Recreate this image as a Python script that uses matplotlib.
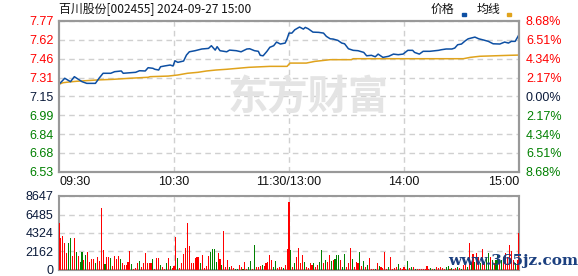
import numpy as np
import matplotlib
matplotlib.use("Agg")
import matplotlib.pyplot as plt
from matplotlib.patches import Rectangle

# ---- data ----
title = "百川股份[002455] 2024-09-27 15:00"
prev_close = 7.15
price_ticks = [6.53, 6.68, 6.84, 6.99, 7.15, 7.31, 7.46, 7.62, 7.77]
pct_labels = ["8.68%", "6.51%", "4.34%", "2.17%", "0.00%", "2.17%", "4.34%", "6.51%", "8.68%"]
time_labels = ["09:30", "10:30", "11:30/13:00", "14:00", "15:00"]
vol_ticks = [0, 2162, 4324, 6485, 8647]

price_min = [0, 3, 6, 8, 12, 14.5, 19, 21, 23, 27, 29, 32.5, 33.5, 40, 42, 45, 46.5, 49, 50, 52,
             53, 55, 58, 59.5, 60.5, 62, 65, 66.5, 68, 71, 74.5, 78, 79.5, 81.5, 82.5, 84, 87.5, 89,
             92.5, 95, 98, 99.5, 102, 104, 105, 106.5, 108.5, 110, 112, 113.5, 115.5, 118, 119, 120,
             121.5, 123, 125.5, 127.5, 128.5, 130, 132.5, 135.5, 138, 139.5, 141.5, 143, 145.5, 147.5,
             149, 151, 153.5, 156, 159, 160.5, 163, 165, 166.5, 169, 172, 174.5, 177, 179.5, 182,
             184.5, 185.5, 188, 190, 193.5, 198, 199.5, 202, 205, 206.5, 208, 210, 212, 213.5, 215,
             217, 219, 221.5, 224, 226.5, 230, 232.5, 234.5, 236, 238, 239.5, 240]
price = [7.249, 7.299, 7.271, 7.312, 7.271, 7.257, 7.257, 7.301, 7.340, 7.340, 7.353, 7.359, 7.340,
         7.348, 7.361, 7.359, 7.386, 7.381, 7.373, 7.367, 7.394, 7.400, 7.408, 7.400, 7.443, 7.430,
         7.441, 7.490, 7.517, 7.526, 7.540, 7.545, 7.567, 7.531, 7.559, 7.526, 7.517, 7.531, 7.526,
         7.517, 7.540, 7.542, 7.526, 7.521, 7.488, 7.484, 7.521, 7.554, 7.567, 7.597, 7.581, 7.589,
         7.624, 7.671, 7.671, 7.698, 7.721, 7.704, 7.718, 7.707, 7.679, 7.677, 7.671, 7.644, 7.624,
         7.622, 7.611, 7.589, 7.583, 7.542, 7.529, 7.526, 7.512, 7.484, 7.488, 7.476, 7.498, 7.471,
         7.480, 7.498, 7.493, 7.498, 7.529, 7.529, 7.512, 7.498, 7.521, 7.521, 7.529, 7.534, 7.540,
         7.540, 7.548, 7.575, 7.581, 7.608, 7.624, 7.630, 7.638, 7.624, 7.614, 7.603, 7.583, 7.581,
         7.597, 7.589, 7.603, 7.603, 7.644, 7.660]

avg_min = [0, 2, 4, 9, 20, 28, 37, 46.5, 47.5, 57, 62, 67, 72.5, 77, 82, 87.5, 99, 110, 119, 120.5,
           129, 133.5, 141.5, 152.5, 153.5, 211, 214.5, 219.5, 235, 240]
avg_px = [7.249, 7.262, 7.266, 7.274, 7.285, 7.290, 7.299, 7.307, 7.312, 7.317, 7.326, 7.340, 7.348,
          7.359, 7.367, 7.373, 7.389, 7.397, 7.397, 7.424, 7.424, 7.438, 7.452, 7.452, 7.460, 7.460,
          7.471, 7.480, 7.488, 7.490]

# one volume per minute, R = up bar, G = down bar
vol = [5531, 3700, 3973, 3194, 2025, 3194, 3778, 1636, 3778, 2142,
       1636, 974, 2142, 1169, 1753, 2142, 974, 1285, 1285, 857,
       1558, 1091, 7284, 2337, 701, 1558, 1558, 1441, 467, 1636,
       1285, 1636, 1285, 857, 545, 584, 974, 2259, 701, 156,
       195, 857, 1091, 390, 818, 2025, 779, 779, 779, 1246,
       117, 1441, 1363, 584, 312, 156, 779, 1402, 506, 273,
       467,
       3895, 1441, 195, 857, 1870, 2532, 5453, 2804, 779, 779,
       1363, 1558, 1558, 779, 1753, 195, 467, 1636, 2142, 2415,
       2454, 974, 2025, 1246, 584, 4596, 312, 1169, 312, 506,
       273, 117, 117, 545, 312, 117, 974, 156, 312, 1091,
       78, 2921, 312, 312, 506, 584, 467, 779, 896, 1753,
       1169, 312, 1052, 234, 312, 390, 195, 584, 2454, 7985,
       2337, 312, 857, 1480, 2571, 857, 1753, 974, 312, 195,
       779, 584, 857, 312, 584, 974, 2337, 779, 1169, 974,
       1753, 1091, 1169, 1246, 1753, 1753, 1169, 312, 1870, 312,
       779, 2571, 1324, 312, 974, 779, 2142, 467, 1013, 312,
       584, 1441, 156, 156, 156, 779, 467, 312, 234, 2142,
       156, 312, 1558, 156, 234, 312, 701, 234, 156, 312,
       156, 1091, 234, 390, 312, 156, 156, 156, 156, 78,
       117, 467, 156, 195, 156, 117, 312, 195, 312, 195,
       117, 312, 467, 156, 195, 117, 234, 312, 234, 117,
       584, 857, 312, 3100, 857, 1870, 974, 2025, 1558, 779,
       2454, 974, 1363, 1948, 1558, 1169, 779, 1169, 1753, 779,
       1169, 1558, 2025, 1558, 2921, 2259, 1169, 779, 1169, 4285]
vol_dir = ("RRRRRGGRRG" "RGGRGRRRRG" "RRRRGRRGRR" "RRGRRRRRGR" "RRGRRRRRRG" "RRRGRRGRGR" "R"
           "RGRRRRRRRR" "RRRGRRRRGG" "GGRRGRRRGR" "RGGRRGRRGG" "RGRRRGRRRR" "RGGRRRGRRR"
           "GRGRRRRGRR" "RRGRRGGRGR" "RGRGGGRGGR" "RRGRRRGRGR" "GRRRGRGRRR" "RGRRRRGRRR"
           "RGRGRGRRRR" "RRRGRGRRRR" "RGGRGRRGRG" "RRGRGRGRRG" "RRGGRGRGGR" "GRRRRRRGRR")

# ---- figure ----
W, H = 578, 276
fig = plt.figure(figsize=(W / 100, H / 100), dpi=100)
fig.patch.set_facecolor("white")

L, R = 59 / W, 519 / W
ax = fig.add_axes([L, 1 - 171.7 / H, R - L, 150.7 / H])
axv = fig.add_axes([L, 1 - 270 / H, R - L, 74 / H])

spine_c = "#999999"
grid_c = "#d0d0d0"
lab_font = "Liberation Sans"
red, green, dark = "#ff0000", "#008000", "#0a1a3a"

# watermark
fig.text(308 / W, 1 - 98 / H, "东方财富", fontsize=29, fontweight="bold",
         color="#e4e4e4", family=["Noto Sans CJK SC"], ha="center", va="center", zorder=0)

ax.plot(avg_min, avg_px, color="#e0a31c", lw=1.1, zorder=3)
ax.plot(price_min, price, color="#0d4fa3", lw=1.1, zorder=4)
ax.patch.set_alpha(0)

lo = prev_close * (1 - 0.0868)
hi = prev_close * (1 + 0.0868)
ax.set_xlim(0, 240)
ax.set_ylim(lo, hi)
ax.set_xticks([60, 120, 180])
ax.set_xticklabels([])
ax.tick_params(axis="x", length=0)
levels = np.linspace(lo, hi, 9)
ax.set_yticks(levels)
ax.set_yticklabels(["%.2f" % v for v in price_ticks], family=lab_font, fontsize=9)
ax.tick_params(axis="y", length=0, pad=4)
ax.grid(True, color=grid_c, ls=(0, (4, 3)), lw=1)
for i, t in enumerate(ax.get_yticklabels()):
    t.set_color(green if i < 4 else (dark if i == 4 else red))

axr = ax.twinx()
axr.set_ylim(lo, hi)
axr.set_yticks(levels)
axr.set_yticklabels(pct_labels, family=lab_font, fontsize=9)
axr.tick_params(axis="y", length=0, pad=5)
for i, t in enumerate(axr.get_yticklabels()):
    t.set_color(green if i < 4 else (dark if i == 4 else red))

for a in (ax, axr, axv):
    for s in a.spines.values():
        s.set_color(spine_c)
        s.set_linewidth(1.5)

# time labels under the price panel
tpos = [0, 60, 120, 180, 240]
has = ["left", "center", "center", "center", "right"]
for p, t, h in zip(tpos, time_labels, has):
    ax.text(p, -0.07, t, transform=ax.get_xaxis_transform(), ha=h, va="center",
            family=lab_font, fontsize=9, color="#111111")

# volume panel
x = np.arange(len(vol))
cols = [red if c == "R" else green for c in vol_dir[:len(vol)]]
axv.bar(x, vol, width=0.55, color=cols, zorder=3)
axv.set_xlim(0, 240)
axv.set_ylim(0, 8647)
axv.set_xticks([60, 120, 180])
axv.set_xticklabels([])
axv.tick_params(axis="x", length=0)
axv.set_yticks(vol_ticks)
axv.set_yticklabels([str(v) for v in vol_ticks], family=lab_font, fontsize=9, color=dark)
axv.tick_params(axis="y", length=0, pad=4)
axv.grid(True, color=grid_c, ls=(0, (4, 3)), lw=1, zorder=0)
axv.set_axisbelow(True)

# title and legend
fig.text(59 / W, 1 - 9.5 / H, title, family=["Noto Sans CJK SC"], fontsize=8.6,
         ha="left", va="center", color="#111111")
fig.text(431 / W, 1 - 9.5 / H, "价格", family=["Noto Sans CJK SC"], fontsize=8.6,
         ha="left", va="center", color="#111111")
fig.text(477 / W, 1 - 9.5 / H, "均线", family=["Noto Sans CJK SC"], fontsize=8.6,
         ha="left", va="center", color="#111111")
fig.patches.append(Rectangle((462 / W, 1 - 16 / H), 4 / W, 2.5 / H, color="#0d4fa3",
                             transform=fig.transFigure, figure=fig))
fig.patches.append(Rectangle((507 / W, 1 - 16 / H), 4 / W, 2.5 / H, color="#e0a31c",
                             transform=fig.transFigure, figure=fig))

# site watermark
fig.text(513 / W, 1 - 261 / H, "www.365jz.com", family="DejaVu Serif", fontweight="bold",
         fontsize=11, ha="center", va="center", color="#1b3f7f", zorder=10)

fig.savefig("out.png", dpi=100)
